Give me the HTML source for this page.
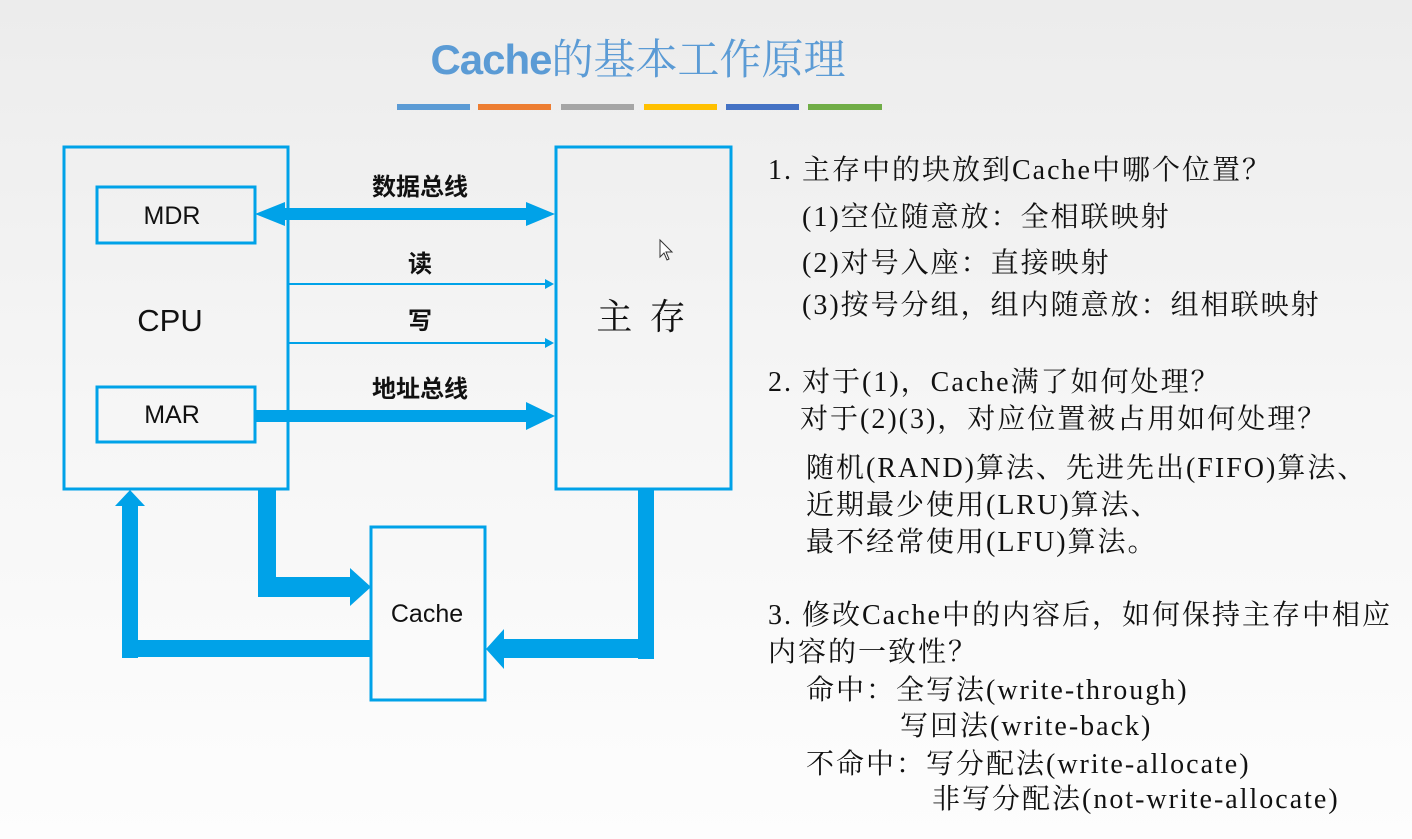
<!DOCTYPE html>
<html><head><meta charset="utf-8"><style>
body{margin:0;width:1412px;height:839px;overflow:hidden;background:linear-gradient(#ececec,#f6f6f6 50%,#fdfdfd);position:relative;font-family:"Liberation Serif","Noto Serif CJK SC",serif;}
.t{position:absolute;white-space:nowrap;font-size:28px;letter-spacing:2px;line-height:30px;color:#111;}
</style></head><body>
<div style="position:absolute;left:0;width:1276px;top:29px;text-align:center;font-size:42px;line-height:56px;color:#5b9bd5;"><span style="font-family:'Liberation Sans',sans-serif;font-weight:bold;letter-spacing:-1px">Cache</span><span style="font-family:'Noto Serif CJK SC',serif">的基本工作原理</span></div>
<svg width="1412" height="839" style="position:absolute;left:0;top:0" font-family="Liberation Sans, Noto Sans CJK SC, sans-serif">
<g>
<rect x="397" y="104" width="73" height="6" fill="#5b9bd5"/>
<rect x="478" y="104" width="73" height="6" fill="#ed7d31"/>
<rect x="561" y="104" width="73" height="6" fill="#a5a5a5"/>
<rect x="644" y="104" width="73" height="6" fill="#ffc000"/>
<rect x="726" y="104" width="73" height="6" fill="#4472c4"/>
<rect x="808" y="104" width="74" height="6" fill="#70ad47"/>
</g>
<g fill="none" stroke="#00a2e8" stroke-width="3">
<rect x="64" y="147" width="224" height="342"/>
<rect x="97" y="187" width="158" height="56"/>
<rect x="97" y="387" width="158" height="55"/>
<rect x="556" y="147" width="175" height="342"/>
<rect x="371" y="527" width="114" height="173"/>
</g>
<g fill="#00a2e8">
<rect x="283" y="208" width="245" height="12"/>
<polygon points="255,214 285,202 285,226"/>
<polygon points="555,214 526,202 526,226"/>
<rect x="255" y="410" width="273" height="12"/>
<polygon points="555,416 526,402 526,430"/>
<rect x="289" y="283" width="260" height="2"/>
<polygon points="554,284 545,279 545,289"/>
<rect x="289" y="342" width="260" height="2"/>
<polygon points="554,343 545,338 545,348"/>
<rect x="258" y="489" width="18" height="108"/>
<rect x="258" y="577" width="94" height="20"/>
<polygon points="371,587 350,568 350,606"/>
<rect x="122" y="504" width="16" height="154"/>
<rect x="122" y="640" width="250" height="17"/>
<polygon points="130,490 115,506 145,506"/>
<rect x="638" y="489" width="16" height="170"/>
<rect x="503" y="639" width="151" height="19"/>
<polygon points="486,649 504,629 504,669"/>
</g>
<g text-anchor="middle" fill="#111">
<text x="420" y="195" font-size="24" font-weight="bold" font-family="Noto Sans CJK SC, sans-serif">数据总线</text>
<text x="420" y="272" font-size="24" font-weight="bold" font-family="Noto Sans CJK SC, sans-serif">读</text>
<text x="420" y="329" font-size="24" font-weight="bold" font-family="Noto Sans CJK SC, sans-serif">写</text>
<text x="420" y="397" font-size="24" font-weight="bold" font-family="Noto Sans CJK SC, sans-serif">地址总线</text>
<text x="172" y="224" font-size="25">MDR</text>
<text x="172" y="423" font-size="25">MAR</text>
<text x="170" y="331" font-size="31">CPU</text>
<text x="427" y="622" font-size="25">Cache</text>
<text x="643" y="329" font-size="36" font-family="Noto Serif CJK SC, serif" letter-spacing="4">主 存</text>
</g>
<path d="M660,240 l0,17 l4,-4 l3,7 l2,-1 l-3,-7 l6,0 z" fill="#fff" stroke="#333" stroke-width="1"/>
</svg>
<div class="t" style="left:768px;top:156px">1. 主存中的块放到Cache中哪个位置？</div>
<div class="t" style="left:802px;top:203px">(1)空位随意放：全相联映射</div>
<div class="t" style="left:802px;top:249px">(2)对号入座：直接映射</div>
<div class="t" style="left:802px;top:291px">(3)按号分组，组内随意放：组相联映射</div>
<div class="t" style="left:768px;top:368px">2. 对于(1)，Cache满了如何处理？</div>
<div class="t" style="left:800px;top:405px">对于(2)(3)，对应位置被占用如何处理？</div>
<div class="t" style="left:806px;top:454px">随机(RAND)算法、先进先出(FIFO)算法、</div>
<div class="t" style="left:806px;top:491px">近期最少使用(LRU)算法、</div>
<div class="t" style="left:806px;top:528px">最不经常使用(LFU)算法。</div>
<div class="t" style="left:768px;top:601px">3. 修改Cache中的内容后，如何保持主存中相应</div>
<div class="t" style="left:768px;top:638px">内容的一致性？</div>
<div class="t" style="left:806px;top:676px">命中：全写法(write-through)</div>
<div class="t" style="left:900px;top:712px">写回法(write-back)</div>
<div class="t" style="left:806px;top:750px">不命中：写分配法(write-allocate)</div>
<div class="t" style="left:932px;top:785px">非写分配法(not-write-allocate)</div>
</body></html>
